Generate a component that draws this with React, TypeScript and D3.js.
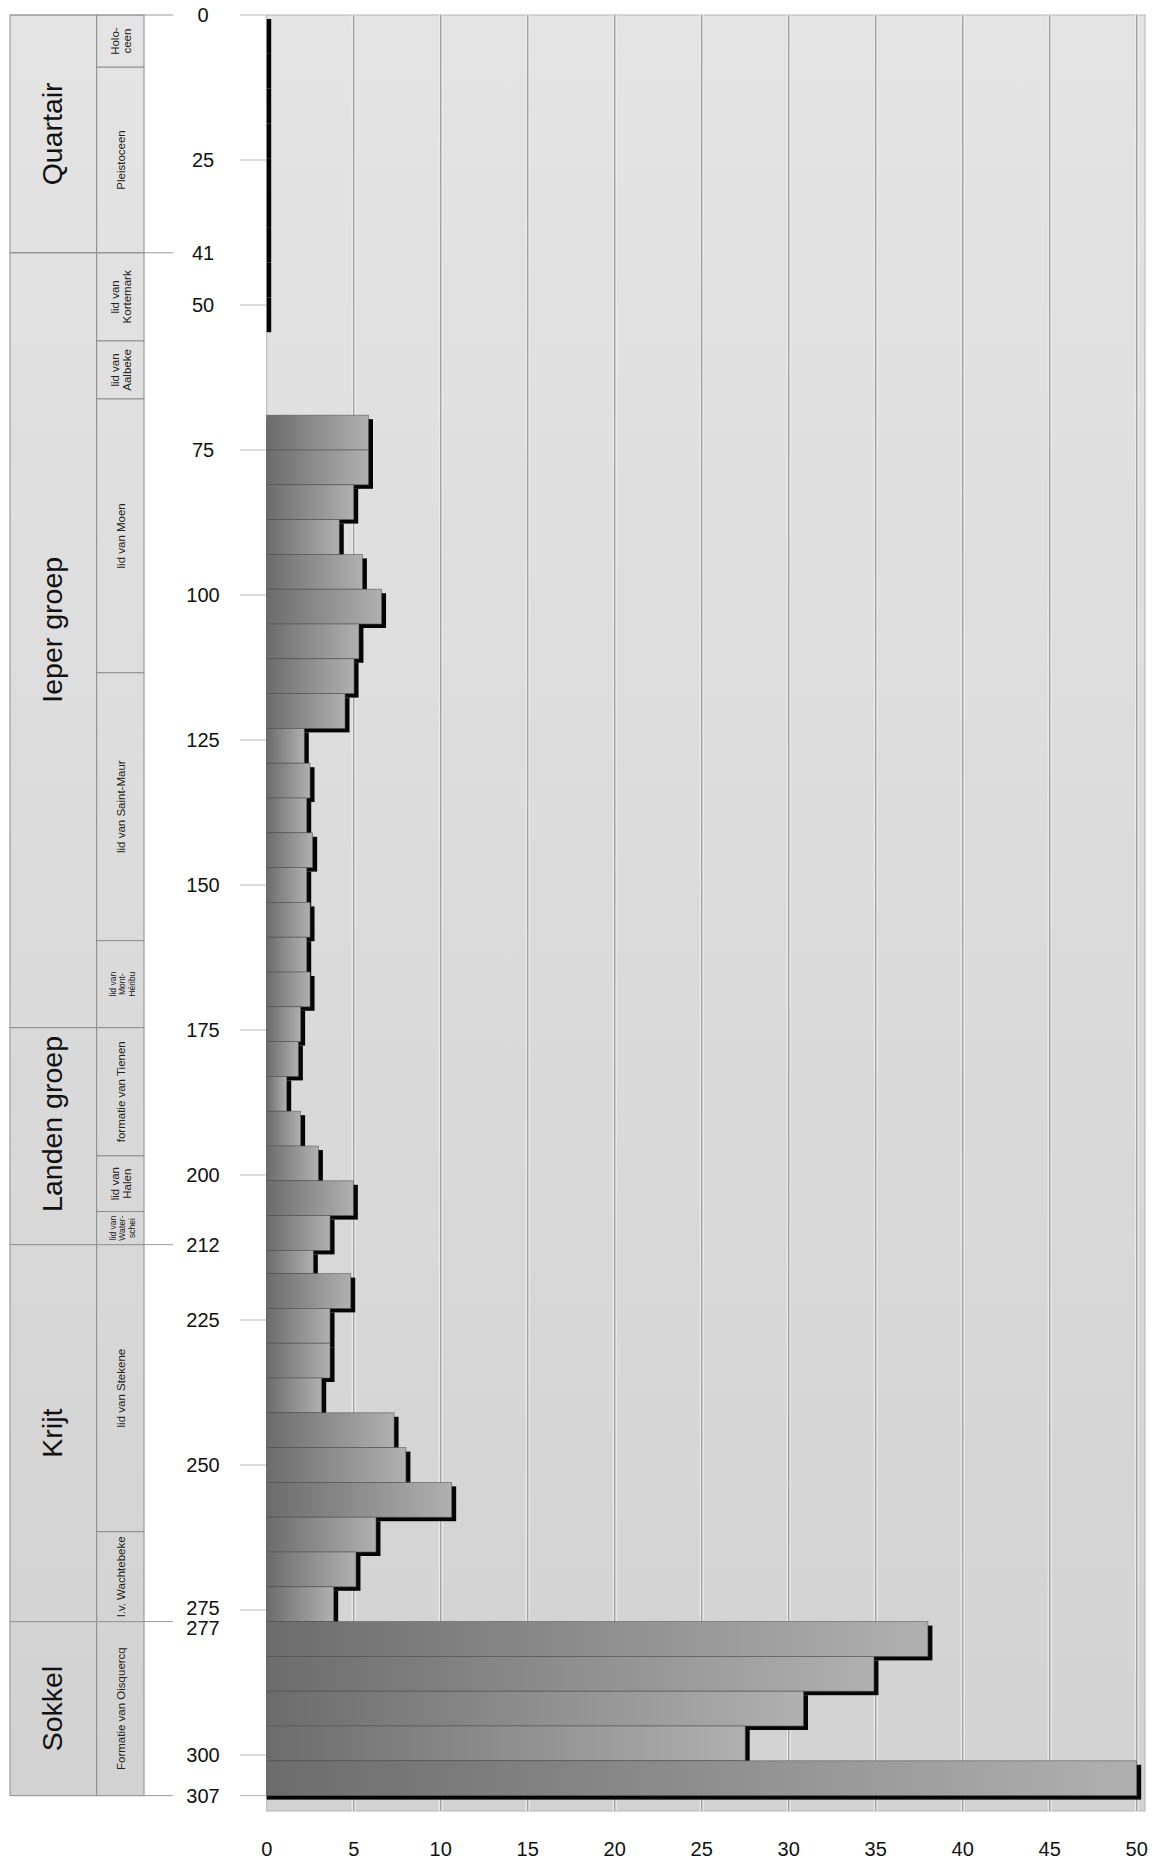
import React from "react";
import * as d3 from "d3";

// ---- data ----
const binTop = [0, 6, 12, 18, 24, 30, 36, 42, 48,
  69, 75, 81, 87, 93, 99, 105, 111, 117, 123, 129, 135, 141, 147, 153, 159, 165, 171, 177, 183, 189, 195, 201, 207,
  213,
  217, 223, 229, 235, 241, 247, 253, 259, 265, 271,
  277, 283, 289, 295, 301];
const binBottom = [6, 12, 18, 24, 30, 36, 42, 48, 54,
  75, 81, 87, 93, 99, 105, 111, 117, 123, 129, 135, 141, 147, 153, 159, 165, 171, 177, 183, 189, 195, 201, 207, 213,
  217,
  223, 229, 235, 241, 247, 253, 259, 265, 271, 277,
  283, 289, 295, 301, 307];
const binValue = [0, 0, 0, 0, 0, 0, 0, 0, 0,
  5.85, 5.85, 5.0, 4.17, 5.5, 6.6, 5.3, 5.02, 4.5, 2.16, 2.49, 2.3, 2.64, 2.3, 2.49, 2.3, 2.49, 1.95, 1.82, 1.15, 1.95, 2.97, 4.98, 3.64,
  2.68,
  4.83, 3.64, 3.64, 3.16, 7.32, 8.0, 10.63, 6.28, 5.13, 3.85,
  38.0, 34.9, 30.85, 27.5, 50];

const groupNames = ["Quartair", "Ieper groep", "Landen groep", "Krijt", "Sokkel"];
const groupTop = [0, 41, 174.6, 212, 277];
const groupBottom = [41, 174.6, 212, 277, 307];
const groupLabelDepth = [20.5, 106, 191.2, 244.5, 292];

const unitLines = [
  ["Holo-", "ceen"],
  ["Pleistoceen"],
  ["lid van", "Kortemark"],
  ["lid van", "Aalbeke"],
  ["lid van Moen"],
  ["lid van Saint-Maur"],
  ["lid van", "Mont-", "Héribu"],
  ["formatie van Tienen"],
  ["lid van", "Halen"],
  ["lid van", "Water-", "schei"],
  ["lid van Stekene"],
  ["l.v. Wachtebeke"],
  ["Formatie van Oisquercq"],
];
const unitTop = [0, 9, 41, 56.2, 66.2, 113.4, 159.6, 174.6, 196.7, 206.3, 212, 261.5, 277];
const unitBottom = [9, 41, 56.2, 66.2, 113.4, 159.6, 174.6, 196.7, 206.3, 212, 261.5, 277, 307];

const depthTicks = [0, 25, 50, 75, 100, 125, 150, 175, 200, 225, 250, 275, 300, 307];
const depthLabels = [0, 25, 41, 50, 75, 100, 125, 150, 175, 200, 212, 225, 250, 275, 277, 300, 307];
const boundaryDepths = [0, 41, 212, 277, 307];
const valueTicks = [0, 5, 10, 15, 20, 25, 30, 35, 40, 45, 50];

const FONT = "'Liberation Sans', Arial, Helvetica, sans-serif";

export default function App() {
  const W = 1159, H = 1860;
  const y = d3.scaleLinear().domain([0, 310]).range([15, 15 + 310 * 5.8]);
  const x = d3.scaleLinear().domain([0, 50]).range([266.7, 1136.7]);
  const plotTop = y(0), plotBottom = 1811, plotLeft = x(0), plotRight = 1145;
  const colL = 10, colM = 96.7, colR = 144;
  const sdx = 4.5, sdy = 4;

  return (
    <svg width={W} height={H} style={{ position: "absolute", left: 0, top: 0, background: "#fff" }} fontFamily={FONT}>
      <defs>
        <linearGradient id="bg" gradientUnits="userSpaceOnUse" x1="0" y1={plotTop} x2="0" y2={plotBottom}>
          <stop offset="0" stopColor="#e4e4e4" />
          <stop offset="1" stopColor="#d2d2d2" />
        </linearGradient>
        <linearGradient id="bar" x1="0" y1="0" x2="1" y2="0">
          <stop offset="0" stopColor="#6c6c6c" />
          <stop offset="1" stopColor="#b0b0b0" />
        </linearGradient>
      </defs>

      {/* strata column */}
      {groupNames.map((g, i) => (
        <rect key={"g" + i} x={colL} y={y(groupTop[i])} width={colM - colL} height={y(groupBottom[i]) - y(groupTop[i])}
          fill="url(#bg)" stroke="#8e8e8e" strokeWidth={1} />
      ))}
      {unitLines.map((u, i) => (
        <rect key={"u" + i} x={colM} y={y(unitTop[i])} width={colR - colM} height={y(unitBottom[i]) - y(unitTop[i])}
          fill="url(#bg)" stroke="#8e8e8e" strokeWidth={1} />
      ))}
      {groupNames.map((g, i) => {
        const cy = y(groupLabelDepth[i]);
        return (
          <text key={"gt" + i} transform={`translate(62,${cy}) rotate(-90)`} textAnchor="middle" fontSize={28.5} fill="#111">{g}</text>
        );
      })}
      {unitLines.map((lines, i) => {
        const cy = (y(unitTop[i]) + y(unitBottom[i])) / 2;
        const n = lines.length;
        const lh = n === 3 ? 9.5 : 12;
        const fs = n === 3 ? 8.5 : 11.5;
        return (
          <g key={"ut" + i}>
            {lines.map((t, j) => {
              const bx = 121 + 4 + (j - (n - 1) / 2) * lh;
              return (
                <text key={j} transform={`translate(${bx},${cy}) rotate(-90)`} textAnchor="middle" fontSize={fs} fill="#222">{t}</text>
              );
            })}
          </g>
        );
      })}
      {boundaryDepths.map((d, i) => (
        <line key={"b" + i} x1={colL} x2={173} y1={y(d)} y2={y(d)} stroke="#9a9a9a" strokeWidth={1} />
      ))}

      {/* plot background */}
      <rect x={plotLeft} y={plotTop} width={plotRight - plotLeft} height={plotBottom - plotTop} fill="url(#bg)" stroke="#b4b4b4" strokeWidth={1} />
      {valueTicks.filter(v => v > 0).map((v, i) => (
        <g key={"gr" + i}>
          <line x1={x(v)} x2={x(v)} y1={plotTop} y2={plotBottom} stroke="#eeeeee" strokeWidth={4} />
          <line x1={x(v)} x2={x(v)} y1={plotTop} y2={plotBottom} stroke="#a2a2a2" strokeWidth={1.5} />
        </g>
      ))}

      {/* y ticks & labels */}
      {depthTicks.map((d, i) => (
        <line key={"t" + i} x1={240} x2={plotLeft} y1={y(d)} y2={y(d)} stroke="#b8b8b8" strokeWidth={1} />
      ))}
      {depthLabels.map((d, i) => (
        <text key={"l" + i} x={203} y={y(d) + 7 + (d === 277 ? 6 : 0) + (d === 275 ? -2 : 0)} textAnchor="middle" fontSize={20} fill="#111">{d}</text>
      ))}

      {/* shadows */}
      {binValue.map((v, i) => (
        <rect key={"s" + i} x={plotLeft} y={y(binTop[i]) + sdy} width={x(v) - plotLeft + sdx} height={y(binBottom[i]) - y(binTop[i])} fill="#050505" />
      ))}
      {/* bars */}
      {binValue.map((v, i) => (v > 0 ? (
        <rect key={"r" + i} x={plotLeft} y={y(binTop[i])} width={x(v) - plotLeft} height={y(binBottom[i]) - y(binTop[i])}
          fill="url(#bar)" stroke="#575757" strokeOpacity={0.7} strokeWidth={0.8} />
      ) : null))}

      {/* x labels */}
      {valueTicks.map((v, i) => (
        <text key={"x" + i} x={x(v)} y={1856} textAnchor="middle" fontSize={20} fill="#111">{v}</text>
      ))}
    </svg>
  );
}
